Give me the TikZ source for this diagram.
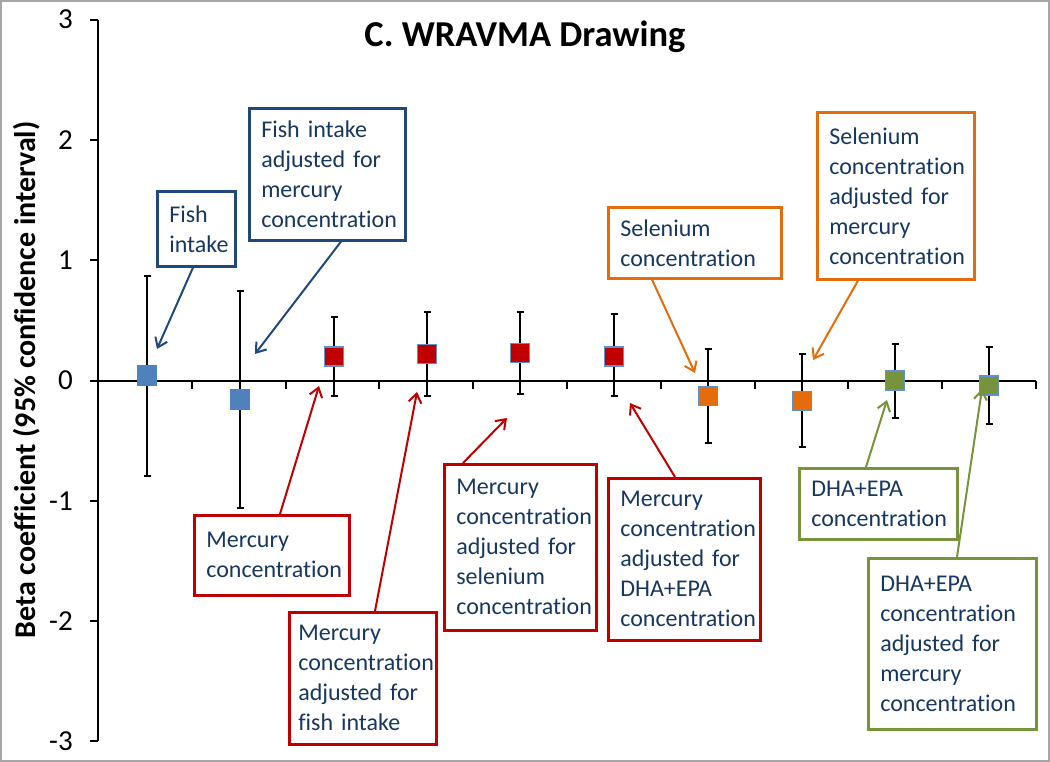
\documentclass[tikz,border=0pt]{standalone}
\usepackage{fontspec}
\setmainfont{Carlito}[Ligatures=NoCommon]
\usetikzlibrary{arrows.meta}
\definecolor{navy}{RGB}{23,55,94}
\definecolor{bbox}{RGB}{31,73,125}
\definecolor{rbox}{RGB}{192,0,0}
\definecolor{obox}{RGB}{228,108,10}
\definecolor{gbox}{RGB}{119,147,60}
\definecolor{mblue}{RGB}{79,129,189}
\definecolor{medge}{RGB}{95,145,205}
\newcommand\py[1]{380.5-120.3*(#1)}
\newcommand\errbar[3]{%
  \draw[ebar] (#1,{\py{#2}}) -- (#1,{\py{#3}});
  \draw[ebar] (#1-3.5,{\py{#2}}) -- (#1+3.5,{\py{#2}});
  \draw[ebar] (#1-3.5,{\py{#3}}) -- (#1+3.5,{\py{#3}});}
\begin{document}
\begin{tikzpicture}[x=1pt,y=-1pt,
  lbl/.style={draw, line width=2.6pt, anchor=north west, align=left, text=navy,
    inner xsep=12pt, inner ysep=0pt, font=\fontsize{24}{30}\selectfont},
  call/.style={line width=2pt, -{Straight Barb[length=9pt,width=13pt,line width=2pt]}},
  ebar/.style={line width=2pt, black},
  axisline/.style={line width=2pt, black},
  marker/.style={rectangle, minimum size=19pt, inner sep=0pt, draw=medge, line width=1.5pt},
  ticklbl/.style={anchor=east, font=\fontsize{29}{35}\selectfont, inner sep=0pt}]
\useasboundingbox (0,0) rectangle (1050,762);
\draw[gray!70, line width=2pt] (1,1) rectangle (1049,761);

% title and axis label
\node[anchor=base, font=\bfseries\fontsize{36.5}{44}\selectfont] (title) at (525,46.5) {C. WRAVMA Drawing};
\node[anchor=base, rotate=90, font=\bfseries\fontsize{30}{36}\selectfont] (ylabel) at (35,380) {Beta coefficient (95\% confidence interval)};

% axes
\draw[axisline] (98,{\py{3}}) -- (98,{\py{-3}});
\foreach \v/\t in {3/3,2/2,1/1,0/0,-1/-1,-2/-2,-3/-3} {
  \draw[axisline] (90,{\py{\v}}) -- (98,{\py{\v}});
  \node[ticklbl] (yl\v) at (73,{\py{\v}}) {\t};
}
\draw[axisline] (98,{\py{0}}) -- (1036,{\py{0}});
\foreach \k in {1,...,10} {
  \draw[axisline] ({98+93.8*\k},{\py{0}}) -- ({98+93.8*\k},{\py{0}+8});
}

% error bars
\errbar{147}{0.87}{-0.79}
\errbar{240}{0.74}{-1.06}
\errbar{334}{0.53}{-0.13}
\errbar{427}{0.57}{-0.13}
\errbar{520}{0.57}{-0.11}
\errbar{614}{0.55}{-0.13}
\errbar{708}{0.26}{-0.52}
\errbar{802}{0.22}{-0.55}
\errbar{895}{0.30}{-0.31}
\errbar{989}{0.28}{-0.36}

% markers
\node[marker, fill=mblue, draw=mblue] (p1) at (147,{\py{0.04}}) {};
\node[marker, fill=mblue, draw=mblue] (p2) at (240,{\py{-0.16}}) {};
\node[marker, fill=rbox] (p3) at (334,{\py{0.20}}) {};
\node[marker, fill=rbox] (p4) at (427,{\py{0.22}}) {};
\node[marker, fill=rbox] (p5) at (520,{\py{0.23}}) {};
\node[marker, fill=rbox] (p6) at (614,{\py{0.20}}) {};
\node[marker, fill=obox] (p7) at (708,{\py{-0.13}}) {};
\node[marker, fill=obox] (p8) at (802,{\py{-0.17}}) {};
\node[marker, fill=gbox] (p9) at (895,{\py{0.00}}) {};
\node[marker, fill=gbox] (p10) at (989,{\py{-0.04}}) {};

% callout boxes
\node[lbl, draw=bbox, text width=54pt, minimum height=75pt] (b1) at (156,190)
  {\mbox{Fish}\\\mbox{intake}};
\node[lbl, draw=bbox, text width=132pt, minimum height=132pt] (b2) at (248,107)
  {\mbox{Fish intake}\\\mbox{adjusted for}\\\mbox{mercury}\\\mbox{concentration}};
\node[lbl, draw=rbox, text width=131pt, minimum height=80pt] (b3) at (193,514)
  {\mbox{Mercury}\\\mbox{concentration}};
\node[lbl, draw=rbox, text width=129pt, minimum height=132pt, inner xsep=9pt] (b4) at (288,611)
  {\mbox{Mercury}\\\mbox{concentration}\\\mbox{adjusted for}\\\mbox{fish intake}};
\node[lbl, draw=rbox, text width=128pt, minimum height=166pt] (b5) at (443,463)
  {\mbox{Mercury}\\\mbox{concentration}\\\mbox{adjusted for}\\\mbox{selenium}\\\mbox{concentration}};
\node[lbl, draw=rbox, text width=128pt, minimum height=162pt] (b6) at (607,477)
  {\mbox{Mercury}\\\mbox{concentration}\\\mbox{adjusted for}\\\mbox{DHA+EPA}\\\mbox{concentration}};
\node[lbl, draw=obox, text width=149pt, minimum height=71pt] (b7) at (607,206)
  {\mbox{Selenium}\\\mbox{concentration}};
\node[lbl, draw=obox, text width=133pt, minimum height=167pt] (b8) at (816,111)
  {\mbox{Selenium}\\\mbox{concentration}\\\mbox{adjusted for}\\\mbox{mercury}\\\mbox{concentration}};
\node[lbl, draw=gbox, text width=134pt, minimum height=71pt] (b9) at (798,467)
  {\mbox{DHA+EPA}\\\mbox{concentration}};
\node[lbl, draw=gbox, text width=144pt, minimum height=171pt] (b10) at (867,557)
  {\mbox{DHA+EPA}\\\mbox{concentration}\\\mbox{adjusted for}\\\mbox{mercury}\\\mbox{concentration}};

% arrow tips
\coordinate (t1) at (157,349);
\coordinate (t2) at (255,354);
\coordinate (t3) at (319,386);
\coordinate (t4) at (417,392);
\coordinate (t5) at (507,418);
\coordinate (t6) at (630,403);
\coordinate (t7) at (695,373);
\coordinate (t8) at (813,360);
\coordinate (t9) at (887,400);
\coordinate (t10) at (982,389);

% callout arrows
\draw[call, bbox] ([xshift=37pt]b1.south west) -- (t1);
\draw[call, bbox] ([xshift=93pt]b2.south west) -- (t2);
\draw[call, rbox] ([xshift=87pt]b3.north west) -- (t3);
\draw[call, rbox] ([xshift=87pt]b4.north west) -- (t4);
\draw[call, rbox] ([xshift=20pt]b5.north west) -- (t5);
\draw[call, rbox] ([xshift=68pt]b6.north west) -- (t6);
\draw[call, obox] ([xshift=45pt]b7.south west) -- (t7);
\draw[call, obox] ([xshift=42pt]b8.south west) -- (t8);
\draw[call, gbox] ([xshift=68pt]b9.north west) -- (t9);
\draw[call, gbox] ([xshift=90pt]b10.north west) -- (t10);
\end{tikzpicture}
\end{document}
